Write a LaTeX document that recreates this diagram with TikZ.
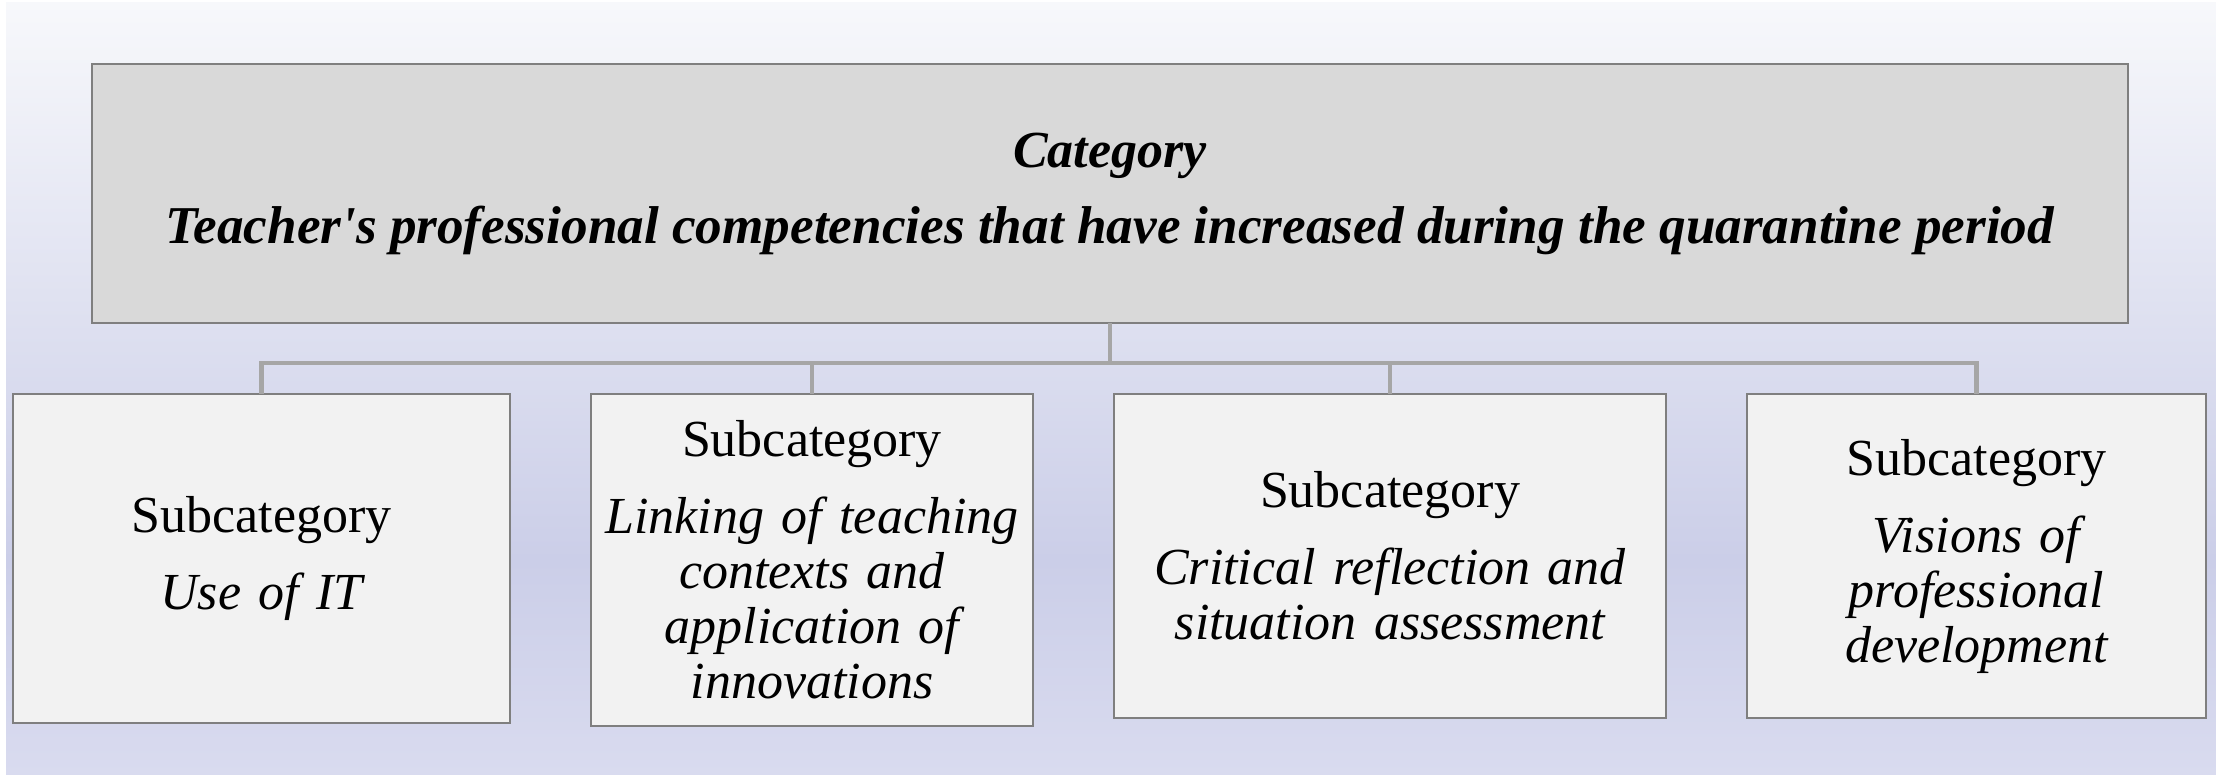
\documentclass[tikz,border=0pt]{standalone}
\usepackage{fontspec}
\setmainfont{Liberation Serif}
\usepackage{tikz}
\usetikzlibrary{positioning}
\usepackage{xcolor}
\definecolor{bgtop}{HTML}{F7F8FB}
\definecolor{bgmid}{HTML}{CBCEE8}
\definecolor{bgbot}{HTML}{D9DBEF}
\definecolor{catfill}{HTML}{D9D9D9}
\definecolor{subfill}{HTML}{F2F2F2}
\definecolor{boxline}{HTML}{7F7F7F}
\definecolor{linkgray}{HTML}{A6A6A6}

\begin{document}
\begin{tikzpicture}[x=0.5pt,y=-0.5pt,node distance=40.5pt,
    cat/.style = {draw=boxline, line width=1pt, fill=catfill, inner sep=0pt, outer sep=0pt,
      minimum width=1018pt, minimum height=129.5pt, align=center,
      font=\fontsize{26}{27.5}\selectfont\bfseries\itshape},
    sub/.style = {draw=boxline, line width=1pt, fill=subfill, inner sep=0pt, outer sep=0pt,
      align=center, font=\fontsize{26}{27.5}\selectfont},
    link/.style = {draw=linkgray, line width=2.2pt}]
        \useasboundingbox (0,0) rectangle (2216,775);
        % background
        \fill[white] (0,0) rectangle (2216,775);
        \shade[top color=bgtop, bottom color=bgmid] (6,3) rectangle (2216,560);
        \shade[top color=bgmid, bottom color=bgbot] (6,560) rectangle (2216,775);
        \node[cat] (0) at (1110,193.5) {Category\\[10.5pt]{\fontsize{26.6}{27.5}\selectfont Teacher\textquotesingle s professional competencies that have increased during the quarantine period}};
        \node[sub, text width=248.5pt, minimum height=164.5pt, anchor=north west] (1) at (13,394)
          {Subcategory\\[11pt]\itshape Use of IT};
        \node[sub, text width=221pt, minimum height=166pt, right=of 1.north east, anchor=north west] (2)
          {Subcategory\\[11pt]\itshape Linking of teaching\\ contexts and\\ application of\\ innovations};
        \node[sub, text width=276pt, minimum height=162pt, right=of 2.north east, anchor=north west] (3)
          {Subcategory\\[11pt]\itshape Critical reflection and\\ situation assessment};
        \node[sub, text width=229.5pt, minimum height=162pt, right=of 3.north east, anchor=north west] (4)
          {Subcategory\\[11pt]\itshape Visions of\\ professional\\ development};
        \foreach \s in {1,2,3,4}
          \draw[link] (0.south) -- ++(0,40) -| (\s.north);
      \end{tikzpicture}
\end{document}
